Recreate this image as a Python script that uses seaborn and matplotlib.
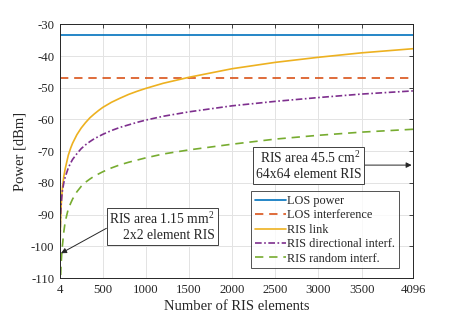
import numpy as np
import pandas as pd
import matplotlib
matplotlib.use("Agg")
import matplotlib.pyplot as plt
import seaborn as sns

# ---- data ----
n_elements = [4, 8, 16, 24, 32, 48, 64, 100, 128, 150, 200, 250, 300, 350, 400, 450,
              500, 600, 700, 800, 900, 1000, 1200, 1500, 2000, 2500, 3000, 3500, 4096]
los_power = [-33.4] * len(n_elements)
los_interf = [-46.8] * len(n_elements)
ris_link = [-102.0, -94.5, -88.0, -84.3, -81.6, -78.0, -75.6, -71.3, -69.0, -67.5,
            -64.8, -62.7, -61.0, -59.5, -58.3, -57.2, -56.2, -54.6, -53.3, -52.1,
            -51.1, -50.2, -48.6, -46.7, -44.0, -42.0, -40.4, -39.0, -37.7]
ris_dir_interf = [-102.5, -91.8, -87.0, -84.5, -82.5, -80.0, -78.2, -75.3, -73.7, -72.6,
                  -70.8, -69.2, -68.0, -67.0, -66.1, -65.4, -64.7, -63.5, -62.5, -61.7,
                  -60.9, -60.2, -59.0, -57.6, -55.7, -54.3, -53.1, -52.0, -51.0]
ris_rand_interf = [-118.0, -112.0, -106.0, -102.5, -99.8, -95.5, -92.3, -88.2, -86.4,
                   -85.1, -82.8, -81.1, -79.8, -78.8, -77.9, -77.2, -76.5, -75.3, -74.3,
                   -73.5, -72.8, -72.1, -70.9, -69.6, -67.8, -66.2, -65.0, -64.0, -63.1]
series_names = ["LOS power", "LOS interference", "RIS link",
                "RIS directional interf.", "RIS random interf."]
x_ticks = [4, 500, 1000, 1500, 2000, 2500, 3000, 3500, 4096]
y_ticks = [-110, -100, -90, -80, -70, -60, -50, -40, -30]

df = pd.DataFrame({
    "N": n_elements * 5,
    "Power": los_power + los_interf + ris_link + ris_dir_interf + ris_rand_interf,
    "Series": sum([[s] * len(n_elements) for s in series_names], []),
})

sns.set_style("white")
plt.rcParams["font.family"] = ["Liberation Serif", "DejaVu Serif"]
plt.rcParams["mathtext.fontset"] = "custom"
plt.rcParams["mathtext.rm"] = "Liberation Serif"
plt.rcParams["axes.unicode_minus"] = False

colors = ["#0072BD", "#D95319", "#EDB120", "#7E2F8E", "#77AC30"]
styles = [None, (5, 3.5), None, (4, 1.5, 1, 1.5), (5, 3.5)]

fig = plt.figure(figsize=(4.57, 3.17), dpi=100)
ax = fig.add_axes([60 / 457, (317 - 278) / 317, 353 / 457, 253.7 / 317])

for name, col, dashes in zip(series_names, colors, styles):
    sub = df[df["Series"] == name]
    kw = {}
    if dashes is not None:
        kw["dashes"] = dashes
    sns.lineplot(data=sub, x="N", y="Power", ax=ax, color=col,
                 linewidth=1.2, label=name, **kw)

ax.set_xlim(4, 4096)
ax.set_ylim(-110, -30)
ax.set_xticks(x_ticks)
ax.set_xticklabels([str(t) for t in x_ticks])
ax.set_yticks(y_ticks)
ax.set_yticklabels([str(t) for t in y_ticks])
ax.grid(True, color="#e3e3e3", linewidth=0.7)
ax.set_axisbelow(True)
for sp in ax.spines.values():
    sp.set_color("#262626")
    sp.set_linewidth(0.7)
ax.tick_params(direction="in", length=3, width=0.6, top=True, right=True,
               colors="#262626", labelsize=9.2, pad=4)
ax.set_xlabel("Number of RIS elements", fontsize=10.5, color="#262626", labelpad=3)
ax.set_ylabel("Power [dBm]", fontsize=10.5, color="#262626", labelpad=3)

leg = ax.legend(loc="lower right", bbox_to_anchor=(0.960, 0.038),
                fontsize=8.8, frameon=True, fancybox=False,
                handlelength=2.5, handletextpad=0.15, borderpad=0.3,
                labelspacing=0.2, borderaxespad=0.0)
leg.get_frame().set_edgecolor("#262626")
leg.get_frame().set_linewidth(0.7)

bbox_kw = dict(boxstyle="square,pad=0.2", fc="white", ec="#404040", lw=0.7)
ax.annotate("RIS area 1.15 mm$^2$\n2x2 element RIS", xy=(16, -102.2),
            xytext=(1800, -93.8), textcoords="data", ha="right", va="center",
            multialignment="right", fontsize=9.8, color="#262626", bbox=bbox_kw,
            arrowprops=dict(arrowstyle="-|>", color="#262626", lw=0.7,
                            relpos=(0.0, 0.5), mutation_scale=8,
                            shrinkA=0, shrinkB=0))
ax.annotate("RIS area 45.5 cm$^2$\n64x64 element RIS", xy=(4080, -74.4),
            xytext=(3497, -74.4), textcoords="data", ha="right", va="center",
            multialignment="right", fontsize=9.8, color="#262626", bbox=bbox_kw,
            arrowprops=dict(arrowstyle="-|>", color="#262626", lw=0.7,
                            relpos=(1.0, 0.5), mutation_scale=8,
                            shrinkA=0, shrinkB=0))

fig.savefig("out.png", dpi=100)
